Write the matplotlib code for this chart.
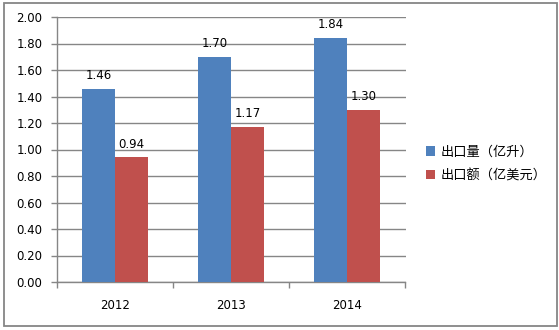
import matplotlib
matplotlib.use("Agg")
import matplotlib.pyplot as plt
from matplotlib.patches import Rectangle
import numpy as np

plt.rcParams['font.family'] = ['DejaVu Sans', 'Noto Sans CJK SC']

years = ["2012", "2013", "2014"]
volume = [1.46, 1.70, 1.84]       # 出口量（亿升）
value = [0.94, 1.17, 1.30]        # 出口额（亿美元）
series_names = ["出口量（亿升）", "出口额（亿美元）"]
y_ticks = [0.0, 0.2, 0.4, 0.6, 0.8, 1.0, 1.2, 1.4, 1.6, 1.8, 2.0]

blue = "#4F81BD"
red = "#C0504D"
grey = "#868686"

fig = plt.figure(figsize=(5.59, 3.30), dpi=100)
fig.patch.set_facecolor("white")

# outer chart frame
fig.add_artist(Rectangle((4 / 559, 1 - 326 / 330), 553 / 559, 323 / 330,
                         transform=fig.transFigure, fill=False,
                         edgecolor=grey, linewidth=1.3))

ax = fig.add_axes([57 / 559, 1 - 282 / 330, 348.5 / 559, 265 / 330])

x = np.arange(len(years))
w = 0.284
b1 = ax.bar(x - w / 2, volume, w, color=blue, label=series_names[0], zorder=3)
b2 = ax.bar(x + w / 2, value, w, color=red, label=series_names[1], zorder=3)

for bars, vals in ((b1, volume), (b2, value)):
    for rect, v in zip(bars, vals):
        ax.annotate(f"{v:.2f}", (rect.get_x() + rect.get_width() / 2, v),
                    xytext=(0, 5), textcoords="offset points",
                    ha="center", va="bottom", fontsize=8.5, color="black")

ax.set_xlim(-0.5, len(years) - 0.5)
ax.set_ylim(0, 2.0)
ax.set_yticks(y_ticks)
ax.set_yticklabels([f"{t:.2f}" for t in y_ticks], fontsize=8.5)
ax.yaxis.grid(True, color=grey, linewidth=1.0, zorder=0)
ax.set_axisbelow(True)

ax.set_xticks(x)
ax.set_xticklabels(years, fontsize=8.5)
ax.set_xticks(np.arange(-0.5, len(years)), minor=True)
ax.tick_params(axis="x", which="major", length=0, pad=12)
ax.tick_params(axis="x", which="minor", length=4, color=grey, width=1.0)
ax.tick_params(axis="y", length=4, color=grey, width=1.0, pad=6.5)

for s in ("top", "right"):
    ax.spines[s].set_visible(False)
for s in ("left", "bottom"):
    ax.spines[s].set_color(grey)
    ax.spines[s].set_linewidth(1.0)

fig.legend(handles=[b1, b2], loc="center left",
           bbox_to_anchor=(414 / 559, 1 - 164 / 330), frameon=False,
           fontsize=9.5, handlelength=0.7, handleheight=0.7,
           handletextpad=0.4, labelspacing=0.8)

fig.savefig("out.png", dpi=100, facecolor="white")
